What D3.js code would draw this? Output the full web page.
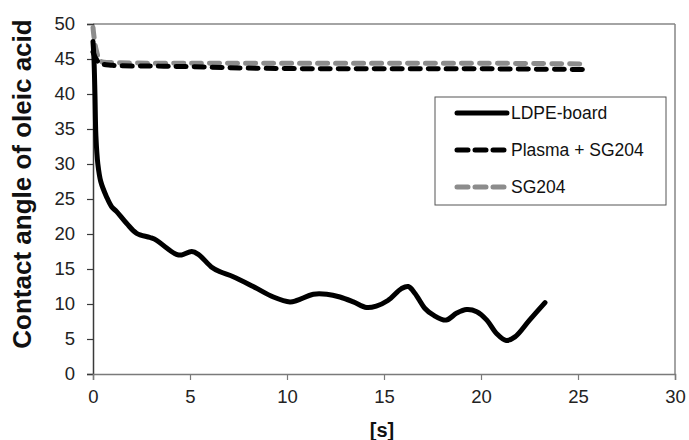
<!DOCTYPE html>
<html><head><meta charset="utf-8">
<script src="https://cdn.jsdelivr.net/npm/d3@7"></script>
<style>body{margin:0;background:#fff}svg{display:block;font-family:"Liberation Sans",Arial,sans-serif}</style>
</head><body><svg id="c" width="689" height="440"></svg>
<script>
const seriesNames = ["LDPE-board", "Plasma + SG204", "SG204"];
const ldpeT = [0,0.05,0.1,0.15,0.25,0.4,0.7,0.96,1.22,1.74,2.25,2.94,3.28,3.8,4.3,4.57,5.09,5.43,6.1,6.55,7.23,8.26,9.3,10.15,10.5,11.36,12.05,12.73,13.42,14.1,14.6,15.2,15.9,16.25,16.6,17.1,17.55,18.2,18.75,19.26,19.78,20.3,20.8,21.3,21.75,22.5,23.3];
const ldpeV = [47.5,45,40,34,30,27.5,25.3,23.9,23.2,21.5,20.1,19.5,19.1,18.0,17.1,17.0,17.5,17.1,15.3,14.6,13.9,12.5,11.0,10.3,10.5,11.4,11.4,11.0,10.3,9.5,9.7,10.5,12.2,12.5,11.5,9.4,8.4,7.7,8.7,9.2,8.9,7.7,5.8,4.8,5.3,7.7,10.2];
const plasmaT = [0,0.3,1,3,5,8,12,16,20,25.3];
const plasmaV = [46,44.5,44.1,44.0,43.9,43.7,43.6,43.6,43.6,43.5];
const sgT = [0,0.15,0.4,1,5,10,15,20,25.2];
const sgV = [49.5,46.5,44.7,44.5,44.4,44.4,44.4,44.4,44.3];
const xTicks = [0,5,10,15,20,25,30];
const yTicks = [0,5,10,15,20,25,30,35,40,45,50];

const svg = d3.select("#c");
const L=93, R=675, T=24, B=374;
const x = d3.scaleLinear().domain([0,30]).range([L,R]);
const y = d3.scaleLinear().domain([0,50]).range([B,T]);

// frame top/right
svg.append("line").attr("x1",L).attr("x2",R).attr("y1",T).attr("y2",T).attr("stroke","#868686").attr("stroke-width",1.5);
svg.append("line").attr("x1",R).attr("x2",R).attr("y1",T).attr("y2",B).attr("stroke","#868686").attr("stroke-width",1.5);

// axes
const yAxis = svg.append("g").attr("transform",`translate(${L},0)`)
  .call(d3.axisLeft(y).tickValues(yTicks).tickSize(6).tickPadding(12).tickFormat(d3.format("d")));
yAxis.select(".domain").attr("stroke","#3a3a3a").attr("stroke-width",1.5);
yAxis.selectAll(".tick line").attr("stroke","#3a3a3a").attr("stroke-width",1.2);
yAxis.selectAll("text").attr("font-size",18.5).attr("fill","#222").attr("font-family","Liberation Sans, Arial");

const xAxis = svg.append("g").attr("transform",`translate(0,${B})`)
  .call(d3.axisBottom(x).tickValues(xTicks).tickSize(6).tickPadding(10).tickFormat(d3.format("d")));
xAxis.select(".domain").attr("stroke","#7a7a7a").attr("stroke-width",1.5);
xAxis.selectAll(".tick line").attr("stroke","#7a7a7a").attr("stroke-width",1.2);
xAxis.selectAll("text").attr("font-size",18.5).attr("fill","#222").attr("font-family","Liberation Sans, Arial");

// titles
svg.append("text").attr("transform",`translate(22,184) rotate(-90)`).attr("text-anchor","middle")
  .attr("dominant-baseline","central").attr("font-weight","bold").attr("font-size",26).attr("fill","#111").text("Contact angle of oleic acid");
svg.append("text").attr("x",382).attr("y",430).attr("text-anchor","middle").attr("dominant-baseline","central")
  .attr("font-weight","bold").attr("font-size",20).attr("fill","#111").text("[s]");

// lines
const line = d3.line().x(d=>x(d[0])).y(d=>y(d[1])).curve(d3.curveCatmullRom.alpha(0.5));
const styles = [
  {color:"#000", dash:null},
  {color:"#000", dash:"10,8"},
  {color:"#8c8c8c", dash:"10,8"}
];
const data = [d3.zip(ldpeT,ldpeV), d3.zip(plasmaT,plasmaV), d3.zip(sgT,sgV)];
[2,1,0].forEach(i=>{
  svg.append("path").datum(data[i]).attr("d",line).attr("fill","none")
    .attr("stroke",styles[i].color).attr("stroke-width",5).attr("stroke-linecap","round").attr("stroke-linejoin","round")
    .attr("stroke-dasharray",styles[i].dash);
});

// legend
const lg = svg.append("g");
lg.append("rect").attr("x",435).attr("y",97).attr("width",231).attr("height",108).attr("fill","#fff").attr("stroke","#555").attr("stroke-width",1);
const rowsY=[113,150,187];
seriesNames.forEach((n,i)=>{
  lg.append("line").attr("x1",457).attr("x2",507).attr("y1",rowsY[i]).attr("y2",rowsY[i])
    .attr("stroke",styles[i].color).attr("stroke-width",5).attr("stroke-linecap","round").attr("stroke-dasharray",styles[i].dash?"11,7":null);
  lg.append("text").attr("x",511).attr("y",rowsY[i]).attr("dominant-baseline","central").attr("font-size",17.5).attr("fill","#111").text(n);
});
</script></body></html>
